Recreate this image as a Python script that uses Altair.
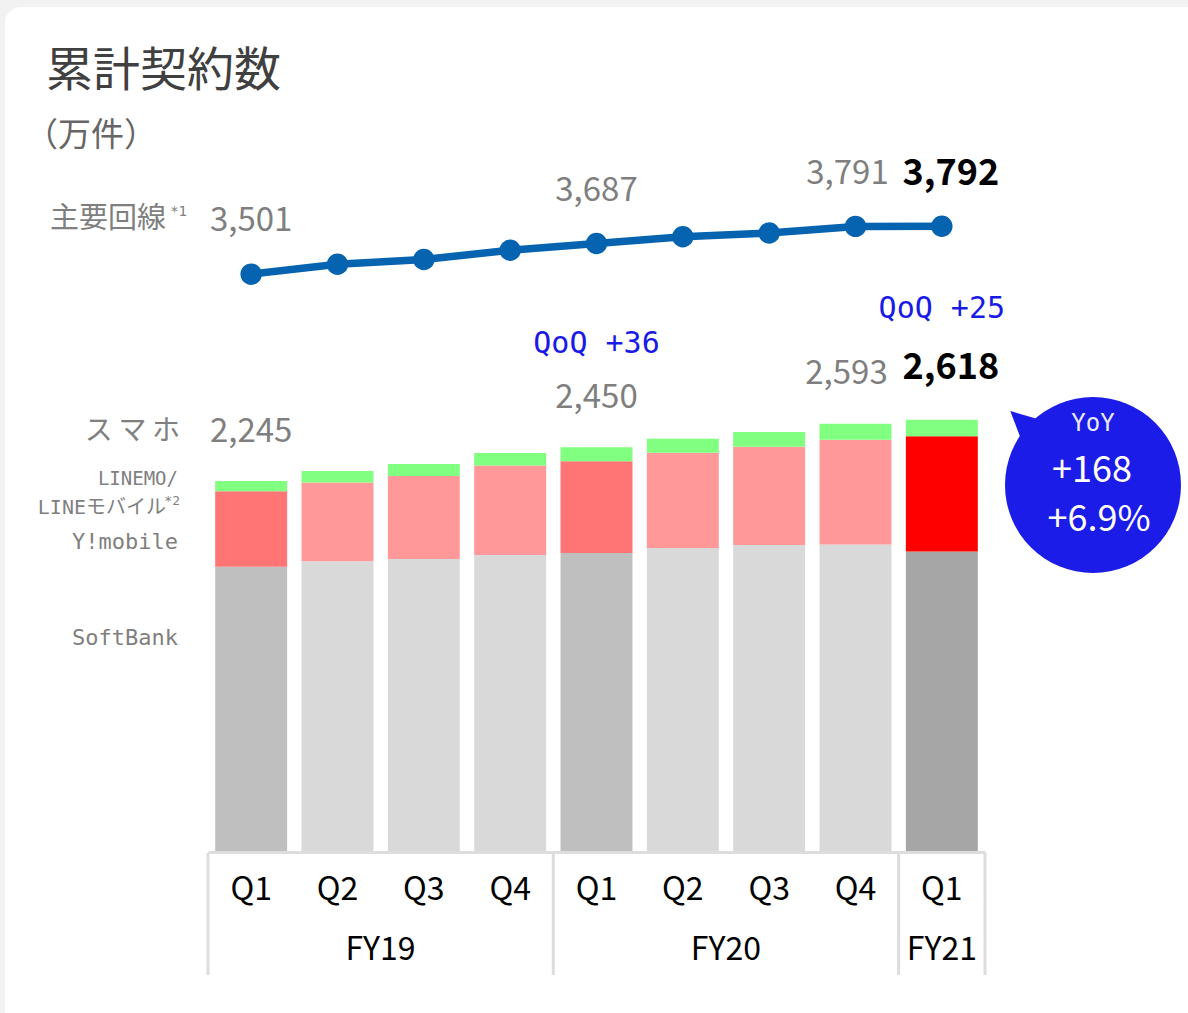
import altair as alt
import pandas as pd

# ---------------- data ----------------
years = ["FY19", "FY19", "FY19", "FY19", "FY20", "FY20", "FY20", "FY20", "FY21"]
quarters = ["Q1", "Q2", "Q3", "Q4", "Q1", "Q2", "Q3", "Q4", "Q1"]
softbank = [1725, 1758, 1772, 1796, 1808, 1839, 1857, 1861, 1818]
ymobile = [459, 479, 504, 544, 557, 578, 597, 635, 699]
linemo = [61, 69, 73, 75, 85, 85, 89, 97, 101]
main_lines = [3501, 3561, 3590, 3646, 3687, 3728, 3751, 3791, 3792]
series_names = ["SoftBank", "Y!mobile", "LINEMO"]

labeled_idx = [0, 4]      # plain grey value labels
shifted_idx = [7]         # grey label next to the highlighted one
current_idx = [8]         # highlighted (bold) label

qoq_periods = ["FY20 Q1", "FY21 Q1"]
qoq_texts = ["QoQ +36", "QoQ +25"]
yoy_texts = ["YoY", "+168", "+6.9%"]
fy_names = ["FY19", "FY20", "FY21"]
fy_anchor = ["FY19 Q2", "FY20 Q2", "FY21 Q1"]

periods = [f"{y} {q}" for y, q in zip(years, quarters)]
current = periods[-1]

rows = []
for i, p in enumerate(periods):
    for r, (s, vals) in enumerate(zip(series_names, [softbank, ymobile, linemo])):
        rows.append({"period": p, "year": years[i], "quarter": quarters[i],
                     "series": s, "rank": r, "value": vals[i]})
bars_df = pd.DataFrame(rows)

totals = [a + b + c for a, b, c in zip(softbank, ymobile, linemo)]
tot_df = pd.DataFrame({"period": periods, "total": totals, "line": main_lines})

# ---------------- styling ----------------
GREY = "#7f7f7f"
BLUE_TXT = "#1a1ae6"
NUM_FONT = "Noto Sans CJK JP"
JP_FONT = "Noto Sans CJK JP"
MONO = "DejaVu Sans Mono, Noto Sans CJK JP"

W, H = 777, 692
YMAX = 4200

x_axis = alt.Axis(title=None, labelExpr="split(datum.label, ' ')[1]", labelAngle=0,
                  ticks=False, tickSize=0, domainColor="#dddddd", domainWidth=3,
                  offset=1, labelPadding=37, labelBaseline="middle",
                  labelFont=NUM_FONT, labelFontSize=32, labelColor="black",
                  grid=False, zindex=1)
x_scale = alt.Scale(paddingInner=0.1667, paddingOuter=0.0833)


def xenc(**kw):
    return alt.X("period:N", sort=periods, scale=x_scale, axis=x_axis, **kw)


y_scale = alt.Scale(domain=[0, YMAX])

color_domain = ["SoftBank|q1", "SoftBank|other", "SoftBank|now",
                "Y!mobile|q1", "Y!mobile|other", "Y!mobile|now",
                "LINEMO|q1", "LINEMO|other", "LINEMO|now"]
color_range = ["#bfbfbf", "#d9d9d9", "#a6a6a6",
               "#ff7575", "#ff9999", "#ff0000",
               "#80ff80", "#80ff80", "#80ff80"]

# ---------------- background card ----------------
card = alt.Chart(alt.Data(values=[{}])).mark_rect(
    color="white", cornerRadius=16
).encode(x=alt.value(-203), x2=alt.value(1000), y=alt.value(-152), y2=alt.value(874))

# ---------------- bars ----------------
bars = alt.Chart(bars_df).transform_calculate(
    key="datum.series + '|' + (datum.period == '" + current + "' ? 'now' : (datum.quarter == 'Q1' ? 'q1' : 'other'))"
).mark_bar().encode(
    x=xenc(),
    y=alt.Y("value:Q", stack="zero", scale=y_scale, axis=None),
    color=alt.Color("key:N", scale=alt.Scale(domain=color_domain, range=color_range), legend=None),
    order=alt.Order("rank:Q", sort="ascending"),
)

# ---------------- line ----------------
line = alt.Chart(tot_df).mark_line(color="#0563B0", strokeWidth=7.5).encode(
    x=xenc(), y=alt.Y("line:Q", scale=y_scale, axis=None))
pts = alt.Chart(tot_df).mark_point(filled=True, color="#0563B0", size=460, opacity=1, shape="circle").encode(
    x=xenc(), y=alt.Y("line:Q", scale=y_scale, axis=None))


def value_text(idx, field, dx, dy, bold=False):
    sub = tot_df.iloc[idx]
    return alt.Chart(sub).mark_text(
        font=NUM_FONT, fontSize=36 if bold else 33,
        fontWeight="bold" if bold else "normal",
        color="black" if bold else GREY, baseline="middle", align="center",
        dx=dx, dy=dy
    ).encode(x=xenc(), y=alt.Y(f"{field}:Q", scale=y_scale, axis=None),
             text=alt.Text(f"{field}:Q", format=","))


labels = [
    value_text(labeled_idx, "line", 0, -53),
    value_text(shifted_idx, "line", -8, -52),
    value_text(current_idx, "line", 9, -52, bold=True),
    value_text(labeled_idx, "total", 0, -49),
    value_text(shifted_idx, "total", -9, -50),
    value_text(current_idx, "total", 9, -52, bold=True),
]

# QoQ annotations
qoq_layers = []
for p, t, dy in zip(qoq_periods, qoq_texts, [-103, -111]):
    sub = tot_df[tot_df["period"] == p].assign(label=t)
    qoq_layers.append(alt.Chart(sub).mark_text(
        font=MONO, fontSize=30, color=BLUE_TXT, baseline="middle", align="center", dy=dy
    ).encode(x=xenc(), y=alt.Y("total:Q", scale=y_scale, axis=None), text="label:N"))

# ---------------- YoY bubble ----------------
bubble_df = pd.DataFrame({"k": [0]})
bubble = alt.Chart(bubble_df).mark_point(
    filled=True, shape="circle", size=176 * 176, color="#1c1ce8", opacity=1
).encode(x=alt.value(885), y=alt.value(326))
tail = alt.Chart(bubble_df).mark_point(
    filled=True, shape="M -0.52 -0.72 L -0.94 -0.84 L -0.78 -0.42 Z",
    size=176 * 176, color="#1c1ce8", opacity=1
).encode(x=alt.value(885), y=alt.value(326))
yoy_df = pd.DataFrame({"t": yoy_texts})
yoy1 = alt.Chart(yoy_df.iloc[[0]]).mark_text(
    font=MONO, fontSize=24, color="#e8e8ff", baseline="middle", align="center"
).encode(x=alt.value(885), y=alt.value(265), text="t:N")
yoy2 = alt.Chart(yoy_df.iloc[[1]]).mark_text(
    font=NUM_FONT, fontSize=36, color="white", baseline="middle", align="center"
).encode(x=alt.value(884), y=alt.value(312), text="t:N")
yoy3 = alt.Chart(yoy_df.iloc[[2]]).mark_text(
    font=NUM_FONT, fontSize=36, color="white", baseline="middle", align="center"
).encode(x=alt.value(891), y=alt.value(361), text="t:N")

# ---------------- axis box rules and FY labels ----------------
rule_start = alt.Chart(pd.DataFrame({"period": ["FY19 Q1", "FY20 Q1", "FY21 Q1"]})).mark_rule(
    color="#dddddd", strokeWidth=3, xOffset=-7.2
).encode(x=xenc(bandPosition=0), y=alt.value(694), y2=alt.value(816))
rule_end = alt.Chart(pd.DataFrame({"period": ["FY21 Q1"]})).mark_rule(
    color="#dddddd", strokeWidth=3, xOffset=7.2
).encode(x=xenc(bandPosition=1), y=alt.value(694), y2=alt.value(816))

fy_df = pd.DataFrame({"period": fy_anchor, "fy": fy_names})
fy_a = alt.Chart(fy_df.iloc[:2]).mark_text(
    font=NUM_FONT, fontSize=32, color="black", baseline="middle", align="center", dx=43
).encode(x=xenc(), y=alt.value(791), text="fy:N")
fy_b = alt.Chart(fy_df.iloc[2:]).mark_text(
    font=NUM_FONT, fontSize=32, color="black", baseline="middle", align="center"
).encode(x=xenc(), y=alt.value(791), text="fy:N")

# ---------------- titles and row labels ----------------
one = alt.Data(values=[{}])


def free_text(text, x, y, size, color=GREY, font=JP_FONT, align="right", weight="normal"):
    return alt.Chart(one).mark_text(
        text=text, font=font, fontSize=size, color=color, align=align,
        baseline="middle", fontWeight=weight
    ).encode(x=alt.value(x), y=alt.value(y))


texts = [
    free_text("累計契約数", -162, -87, 47, color="#404040", align="left"),
    free_text("（万件）", -183, -23, 33, color="#666666", align="left"),
    free_text("主要回線", -42, 60, 29),
    free_text("*1", -21, 53, 14, font=MONO),
    free_text("ス\u2009マ\u2009ホ", -28, 273, 28),
    free_text("LINEMO/", -30, 320, 19, font=MONO),
    free_text("LINEモバイル", -42, 349, 20, font=MONO),
    free_text("*2", -28, 342, 13, font=MONO),
    free_text("Y!mobile", -30, 383, 22, font=MONO),
    free_text("SoftBank", -30, 479, 22, font=MONO),
]

chart = alt.layer(
    card, bars, rule_start, rule_end, line, pts, *labels, *qoq_layers,
    tail, bubble, yoy1, yoy2, yoy3, fy_a, fy_b, *texts
).properties(
    width=W, height=H,
    autosize=alt.AutoSizeParams(type="none"),
    padding={"left": 208, "top": 159, "right": 203, "bottom": 162},
    background="#f2f2f2",
).configure_view(strokeWidth=0)

chart.save("out.html", embed_options={"renderer": "svg", "actions": False})
